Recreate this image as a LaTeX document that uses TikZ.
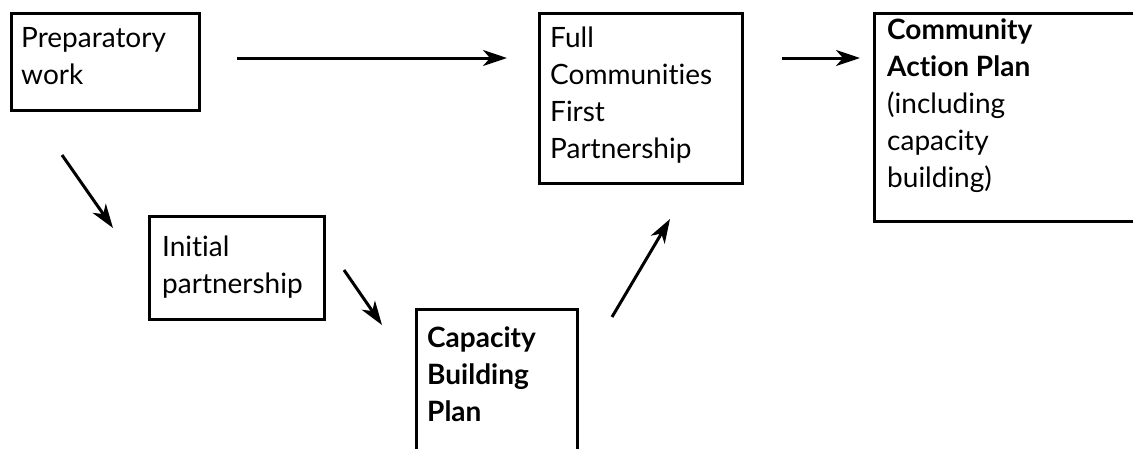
\documentclass[tikz,border=0pt]{standalone}
\usepackage{fontspec}
\setmainfont{Lato}[Ligatures={NoCommon}]
\usetikzlibrary{arrows.meta}
\begin{document}
\begin{tikzpicture}[x=1pt,y=-1pt,
  box/.style={draw, line width=3pt, inner sep=0pt, anchor=north west},
  txt/.style={anchor=base west, inner sep=0pt, font=\fontsize{28}{37}\selectfont},
  arr/.style={line width=3pt, -{Stealth[length=24pt,width=16pt,inset=7pt]}}]
\useasboundingbox (0,0) rectangle (1133,448);
\fill[white] (0,0) rectangle (1133,448);
\clip (0,0) rectangle (1133,448);
% boxes
\node[box, minimum width=188pt, minimum height=97pt] (prep) at (10,12) {};
\node[box, minimum width=203pt, minimum height=170pt] (full) at (538,12) {};
\node[box, minimum width=277pt, minimum height=208pt] (cap) at (873,12) {};
\node[box, minimum width=175pt, minimum height=103pt] (init) at (148,215) {};
\node[box, minimum width=161pt, minimum height=162pt] (cbp) at (415,308) {};
% texts
\node[txt] (t1) at (21,47) {\begin{tabular}[t]{@{}l@{}}Preparatory\\work\end{tabular}};
\node[txt] (t2) at (550,47) {\begin{tabular}[t]{@{}l@{}}Full\\Communities\\First\\Partnership\end{tabular}};
\node[txt] (t3) at (887,39) {\begin{tabular}[t]{@{}l@{}}\textbf{Community}\\\textbf{Action Plan}\\(including\\capacity\\building)\end{tabular}};
\node[txt] (t4) at (162,256) {\begin{tabular}[t]{@{}l@{}}Initial\\partnership\end{tabular}};
\node[txt] (t5) at (427,347) {\begin{tabular}[t]{@{}l@{}}\textbf{Capacity}\\\textbf{Building}\\\textbf{Plan}\end{tabular}};
% arrow end points
\coordinate (a1s) at (237,58); \coordinate (a1e) at (507,58);
\coordinate (a2s) at (782,58); \coordinate (a2e) at (860,58);
\coordinate (a3s) at (62,155); \coordinate (a3e) at (113,228);
\coordinate (a4s) at (344,270); \coordinate (a4e) at (382,325);
\coordinate (a5s) at (612,317); \coordinate (a5e) at (670,219);
\draw[arr] (a1s) -- (a1e);
\draw[arr] (a2s) -- (a2e);
\draw[arr] (a3s) -- (a3e);
\draw[arr] (a4s) -- (a4e);
\draw[arr] (a5s) -- (a5e);
\end{tikzpicture}
\end{document}
